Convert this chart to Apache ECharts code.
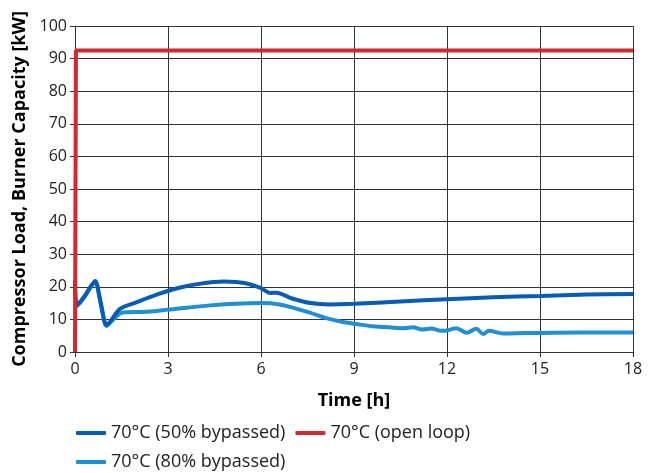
<!DOCTYPE html>
<html><head><meta charset="utf-8">
<script src="https://cdn.jsdelivr.net/npm/echarts@6/dist/echarts.min.js"></script>
<style>html,body{margin:0;padding:0;background:#fff}#c{width:658px;height:473px}</style>
</head><body><div id="c"></div>
<script>
const xTicks = [0, 3, 6, 9, 12, 15, 18];
const yTicks = [0, 10, 20, 30, 40, 50, 60, 70, 80, 90, 100];
const seriesNames = ['70°C (50% bypassed)', '70°C (open loop)', '70°C (80% bypassed)'];

const bypass50 = [
  [0.0, 22], [0.06, 14.5], [0.3, 17], [0.5, 20], [0.65, 21.8], [0.8, 16.5], [0.95, 9.5], [1.02, 8.3],
  [1.15, 9.5], [1.45, 13.2], [2.0, 15.3], [2.7, 17.8], [3.4, 19.8], [4.0, 20.9], [4.8, 21.6],
  [5.5, 21.1], [6.0, 19.6], [6.3, 18.1], [6.5, 18.2], [7.0, 16.4], [7.6, 15.0], [8.2, 14.6],
  [9.0, 14.8], [10.5, 15.5], [12.0, 16.2], [13.5, 16.8], [15.0, 17.2], [16.5, 17.6], [18.0, 17.8]
];
const openLoop = [[0.0, 0], [0.03, 92.5], [18.0, 92.5]];
const bypass80 = [
  [0.0, 21.5], [0.06, 14], [0.3, 16.8], [0.5, 19.8], [0.65, 21.5], [0.8, 16.2], [0.95, 9.2], [1.02, 8.0],
  [1.15, 9.2], [1.45, 11.8], [1.7, 12.2], [2.2, 12.3], [3.0, 13.0], [4.35, 14.3], [5.2, 14.8],
  [6.0, 15.0], [6.6, 14.6], [7.1, 13.4], [7.6, 12.0], [8.1, 10.4], [8.6, 9.3], [9.2, 8.4],
  [9.6, 7.9], [10.2, 7.5], [10.6, 7.3], [10.9, 7.6], [11.2, 6.9], [11.5, 7.2], [11.8, 6.5],
  [12.0, 6.6], [12.3, 7.3], [12.64, 5.9], [12.94, 7.1], [13.17, 5.5], [13.35, 6.5], [13.8, 5.7],
  [14.5, 5.8], [15.5, 5.9], [17.0, 6.0], [18.0, 6.0]
];

const FONT = 'Open Sans';
const chart = echarts.init(document.getElementById('c'), null, {renderer: 'canvas'});
const gridLine = {show: true, lineStyle: {color: '#333', width: 1}};
chart.setOption({
  animation: false,
  textStyle: {fontFamily: FONT},
  grid: {left: 75, right: 25, top: 26, bottom: 121, containLabel: false, outerBoundsMode: 'none'},
  xAxis: {
    type: 'value', min: xTicks[0], max: xTicks[xTicks.length - 1], interval: 3,
    name: 'Time [h]', nameLocation: 'middle', nameGap: 40,
    nameTextStyle: {fontFamily: FONT, fontWeight: 'bold', fontSize: 18, color: '#000'},
    axisLine: {show: true, onZero: false, lineStyle: {color: '#333', width: 1}},
    axisTick: {show: true, length: 5, lineStyle: {color: '#333'}},
    axisLabel: {fontFamily: FONT, fontSize: 16, color: '#222', margin: 9},
    splitLine: gridLine
  },
  yAxis: {
    type: 'value', min: yTicks[0], max: yTicks[yTicks.length - 1], interval: 10,
    name: 'Compressor Load, Burner Capacity [kW]', nameLocation: 'middle', nameGap: 43,
    nameTextStyle: {fontFamily: FONT, fontWeight: 'bold', fontSize: 18, color: '#000'},
    axisLine: {show: true, lineStyle: {color: '#333', width: 1}},
    axisTick: {show: true, length: 5, lineStyle: {color: '#333'}},
    axisLabel: {fontFamily: FONT, fontSize: 16, color: '#222', margin: 8},
    splitLine: gridLine
  },
  legend: [
    {data: [seriesNames[0], seriesNames[1]], left: 71, top: 419, itemWidth: 30, itemHeight: 4, itemGap: 10,
     icon: 'roundRect', textStyle: {fontFamily: FONT, fontSize: 18, color: '#222'}},
    {data: [seriesNames[2]], left: 71, top: 448, itemWidth: 30, itemHeight: 4,
     icon: 'roundRect', textStyle: {fontFamily: FONT, fontSize: 18, color: '#222'}}
  ],
  series: [
    {name: seriesNames[2], type: 'line', data: bypass80, showSymbol: false, smooth: 0.3, z: 3,
     lineStyle: {color: '#1f8fd6', width: 4}, itemStyle: {color: '#1f8fd6'}},
    {name: seriesNames[0], type: 'line', data: bypass50, showSymbol: false, smooth: 0.3, z: 4,
     lineStyle: {color: '#075cb6', width: 4}, itemStyle: {color: '#075cb6'}},
    {name: seriesNames[1], type: 'line', data: openLoop, showSymbol: false, z: 5,
     lineStyle: {color: '#d02a30', width: 4}, itemStyle: {color: '#d02a30'}}
  ]
});
</script></body></html>
